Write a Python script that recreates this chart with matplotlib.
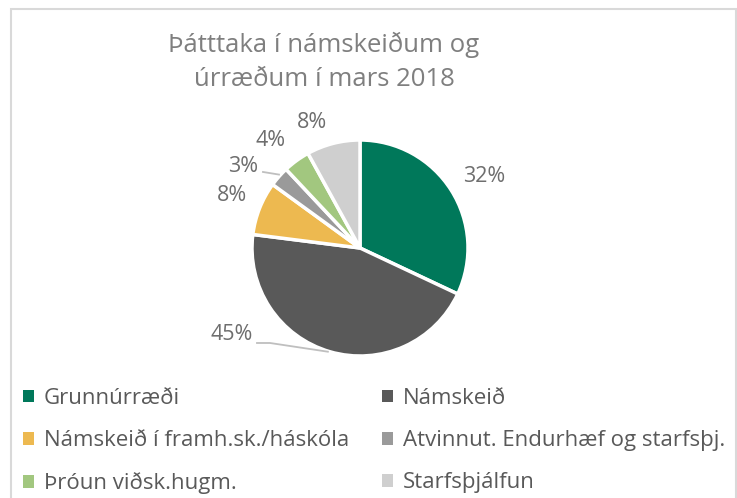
import matplotlib
matplotlib.use("Agg")
import matplotlib.pyplot as plt
from matplotlib.patches import Rectangle, Patch
import numpy as np

plt.rcParams['font.family'] = ['Open Sans', 'DejaVu Sans']

title = "Þátttaka í námskeiðum og\núrræðum í mars 2018"
categories = ["Grunnúrræði", "Námskeið", "Námskeið í framh.sk./háskóla",
              "Atvinnut. Endurhæf og starfsþj.", "Þróun viðsk.hugm.", "Starfsþjálfun"]
values = [32, 45, 8, 3, 4, 8]
labels = ["32%", "45%", "8%", "3%", "4%", "8%"]
colors = ["#00785A", "#595959", "#EDB950", "#9A9A9A", "#A2C77F", "#CFCFCF"]

W, H = 737, 498
fig = plt.figure(figsize=(W / 100, H / 100), dpi=100)
ax = fig.add_axes([0, 0, 1, 1])

# chart border
ax.add_patch(Rectangle((11, -5), 725, H - 9 + 5, fill=False, edgecolor="#D9D9D9", linewidth=1.5))

cx, cy, r = 360, 250, 108
wedges, _ = ax.pie(values, colors=colors, startangle=90, counterclock=False,
                   center=(cx, cy), radius=r, frame=True,
                   wedgeprops=dict(edgecolor="white", linewidth=2.5))
ax.set_xlim(0, W)
ax.set_ylim(0, H)
ax.set_aspect('equal')
ax.axis('off')

# label placement (radius factor, angle offset in degrees)
label_r = [1.323, 1.433, 1.28, 1.318, 1.295, 1.24]
label_da = [-2.6, -39.6, -0.9, 6.7, 3.9, 6.6]
text_col = "#6E6E6E"
pos = []
for w, lab, rf, da in zip(wedges, labels, label_r, label_da):
    mid = np.deg2rad((w.theta1 + w.theta2) / 2 + da)
    tx, ty = cx + rf * r * np.cos(mid), cy + rf * r * np.sin(mid)
    pos.append((tx, ty))
    ax.text(tx, ty, lab, ha='center', va='center', fontsize=15.5, color=text_col)

# leader lines for 45% and 3%
def edge_point(w):
    m = np.deg2rad((w.theta1 + w.theta2) / 2)
    return cx + r * np.cos(m), cy + r * np.sin(m)

tx, ty = pos[1]
ex, ey = edge_point(wedges[1])
ax.plot([tx + 25, tx + 38, ex - 2], [ty - 8, ty - 8, ey], color="#BFBFBF", lw=1.3)
tx, ty = pos[3]
ex, ey = edge_point(wedges[3])
ax.plot([tx + 20, ex], [ty - 5, ey + 2], color="#BFBFBF", lw=1.3)

ax.text(324, H - 62, title, ha='center', va='center', fontsize=18.5, color="#7F7F7F",
        linespacing=1.45)

handles = [Patch(facecolor=c, edgecolor='none') for c in colors]
leg_kw = dict(frameon=False, fontsize=16, labelcolor="#595959", handlelength=0.5,
              handleheight=0.5, handletextpad=0.45, labelspacing=0.95, borderaxespad=0,
              borderpad=0)
l1 = ax.legend([handles[i] for i in (0, 2, 4)], [categories[i] for i in (0, 2, 4)],
               loc='upper left', bbox_to_anchor=(23 / W, 1 - 388 / H), **leg_kw)
ax.add_artist(l1)
ax.legend([handles[i] for i in (1, 3, 5)], [categories[i] for i in (1, 3, 5)],
          loc='upper left', bbox_to_anchor=(382 / W, 1 - 388 / H), **leg_kw)

fig.savefig("out.png", dpi=100, facecolor="white")
